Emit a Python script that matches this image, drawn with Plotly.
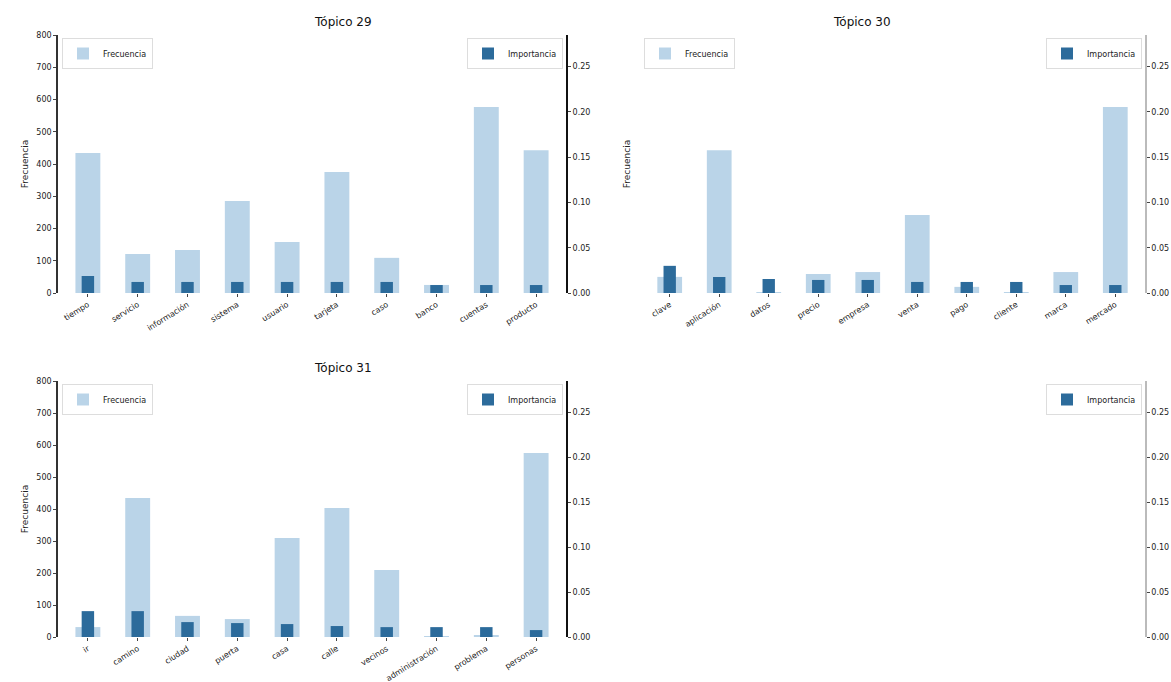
import plotly.graph_objects as go

# ---- data ----
topic_titles = ["Tópico 29", "Tópico 30", "Tópico 31"]

topic29_words = ["tiempo", "servicio", "información", "sistema", "usuario",
                 "tarjeta", "caso", "banco", "cuentas", "producto"]
topic29_count = [434, 121, 133, 285, 158, 375, 109, 25, 577, 443]
topic29_weight = [0.0188, 0.0122, 0.0122, 0.0122, 0.0122, 0.0122, 0.0122, 0.0088, 0.0088, 0.0088]

topic30_words = ["clave", "aplicación", "datos", "precio", "empresa",
                 "venta", "pago", "cliente", "marca", "mercado"]
topic30_count = [50, 443, 3, 59, 65, 242, 19, 2, 65, 577]
topic30_weight = [0.030, 0.0177, 0.0155, 0.0144, 0.0144, 0.0122, 0.0122, 0.0122, 0.0088, 0.0088]

topic31_words = ["ir", "camino", "ciudad", "puerta", "casa",
                 "calle", "vecinos", "administración", "problema", "personas"]
topic31_count = [31, 434, 66, 56, 309, 403, 209, 3, 6, 575]
topic31_weight = [0.0288, 0.0288, 0.0166, 0.0155, 0.0144, 0.0122, 0.011, 0.011, 0.011, 0.0077]

left_ticks = [0, 100, 200, 300, 400, 500, 600, 700, 800]
right_ticks = [0.00, 0.05, 0.10, 0.15, 0.20, 0.25]

count_label = "Frecuencia"
weight_label = "Importancia"

W, H = 1171, 682
LIGHT = "#bad4e8"
DARK = "#2c6b9b"
FONT = "DejaVu Sans"

def px_x(v):
    return v / W

def px_y(v):
    return 1 - v / H

# subplot pixel boxes: (x0, x1, ytop, ybottom)
boxes = [(58, 566, 35, 293), (640, 1145, 35, 293), (58, 566, 381, 637), (640, 1145, 381, 637)]

fig = go.Figure()
topics = [(topic29_words, topic29_count, topic29_weight),
          (topic30_words, topic30_count, topic30_weight),
          (topic31_words, topic31_count, topic31_weight)]

layout = dict(
    width=W, height=H, margin=dict(l=0, r=0, t=0, b=0, autoexpand=False),
    paper_bgcolor="white", plot_bgcolor="white",
    font=dict(family=FONT, size=9, color="#222"),
    barmode="overlay", showlegend=True,
)

annotations = []
legend_n = 0
for i, box in enumerate(boxes):
    k = i + 1
    x0, x1, yt, yb = box
    xa = "xaxis" if k == 1 else f"xaxis{k}"
    yl = 2 * k - 1
    yr = 2 * k
    yla = "yaxis" if yl == 1 else f"yaxis{yl}"
    yra = f"yaxis{yr}"
    xref = "x" if k == 1 else f"x{k}"
    ylref = "y" if yl == 1 else f"y{yl}"
    yrref = f"y{yr}"
    dom_x = [px_x(x0), px_x(x1)]
    dom_y = [px_y(yb), px_y(yt)]
    has_data = i < 3
    layout[xa] = dict(domain=dom_x, anchor=ylref, showline=False, showgrid=False,
                      zeroline=False, ticks="outside" if has_data else "", ticklen=3,
                      tickangle=-32, tickfont=dict(size=8), automargin=False,
                      showticklabels=has_data,
                      range=[-0.6, 9.6] if has_data else [0, 1])
    left_line = (i in (0, 2))
    layout[yla] = dict(domain=dom_y, anchor=xref, range=[0, 800], tickvals=left_ticks,
                       showgrid=False, zeroline=False, automargin=False,
                       showline=left_line, linecolor="#333", linewidth=1.5,
                       ticks="outside" if left_line else "", ticklen=3,
                       showticklabels=left_line, tickfont=dict(size=8),
                       title=dict(text=count_label if has_data else "", font=dict(size=9), standoff=6))
    right_col = "#111" if i in (0, 2) else "#bbbbbb"
    layout[yra] = dict(overlaying=ylref, anchor=xref, side="right", range=[0, 0.285],
                       tickvals=right_ticks, tickformat=".2f", showgrid=False, zeroline=False,
                       automargin=False,
                       showline=True, linecolor=right_col, linewidth=2 if i in (0, 2) else 1.5,
                       ticks="outside", ticklen=3, tickfont=dict(size=8))

    # legends
    lg_left = None
    if has_data:
        legend_n += 1
        lg_left = "legend" if legend_n == 1 else f"legend{legend_n}"
        layout[lg_left] = dict(x=px_x(x0 + 4), y=px_y(yt + 3), xanchor="left", yanchor="top",
                               bgcolor="rgba(255,255,255,0.8)", bordercolor="#dddddd", borderwidth=1,
                               font=dict(size=8), itemwidth=30, tracegroupgap=0)
    legend_n += 1
    lg_right = "legend" if legend_n == 1 else f"legend{legend_n}"
    layout[lg_right] = dict(x=px_x(x1 - 3), y=px_y(yt + 3), xanchor="right", yanchor="top",
                            bgcolor="rgba(255,255,255,0.8)", bordercolor="#dddddd", borderwidth=1,
                            font=dict(size=8), itemwidth=30, tracegroupgap=0)

    if has_data:
        words, counts, weights = topics[i]
        fig.add_trace(go.Bar(x=words, y=counts, width=0.5, marker=dict(color=LIGHT, line=dict(width=0)),
                             name=count_label, xaxis=xref, yaxis=ylref, legend=lg_left))
        fig.add_trace(go.Bar(x=words, y=weights, width=0.25, marker=dict(color=DARK, line=dict(width=0)),
                             name=weight_label, xaxis=xref, yaxis=yrref, legend=lg_right))
        annotations.append(dict(text=topic_titles[i], x=(px_x(x0) + px_x(x1)) / 2, y=px_y(yt - 13),
                                xref="paper", yref="paper", showarrow=False,
                                font=dict(size=12, color="#111"), yanchor="middle"))
    else:
        # empty panel: only the twin axis and its legend remain
        fig.add_trace(go.Bar(x=[0.5], y=[0], width=0.25, marker=dict(color=DARK, line=dict(width=0)),
                             opacity=0, name=count_label, xaxis=xref, yaxis=ylref, showlegend=False,
                             hoverinfo="skip"))
        fig.add_trace(go.Bar(x=[0.5], y=[0], width=0.25, marker=dict(color=DARK, line=dict(width=0)),
                             name=weight_label, xaxis=xref, yaxis=yrref, legend=lg_right,
                             hoverinfo="skip"))

layout["annotations"] = annotations
fig.update_layout(**layout)
fig.write_html("out.html", config={"displayModeBar": False},
               post_script="document.body.style.margin='0px';document.body.style.overflow='hidden';")
